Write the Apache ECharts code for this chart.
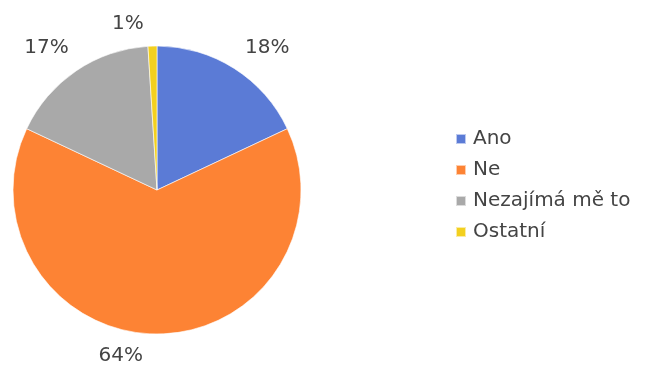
<!DOCTYPE html>
<html>
<head>
<meta charset="utf-8">
<script src="https://cdn.jsdelivr.net/npm/echarts@6/dist/echarts.min.js"></script>
<style>
  html, body { margin: 0; padding: 0; background: #fff; }
  #chart { width: 654px; height: 365px; }
</style>
</head>
<body>
<div id="chart"></div>
<script>
// Answers and their shares (percent)
const categories = ['Ano', 'Ne', 'Nezajímá mě to', 'Ostatní'];
const shares = [18, 64, 17, 1];

const sliceColors = ['#5b7bd6', '#fd8334', '#a9a9a9', '#f3d01f'];
// small per-label nudges applied after the library's outside layout
const labelNudge = [[-6, -2], [-19, 0], [10, -5], [-3, 0]];
const labelAlign = [null, 'right', null, null];

const chart = echarts.init(document.getElementById('chart'), null, { renderer: 'canvas' });

chart.setOption({
  animation: false,
  color: sliceColors,
  legend: {
    orient: 'vertical',
    left: 455,
    top: 129,
    padding: 0,
    icon: 'rect',
    itemWidth: 10,
    itemHeight: 10,
    itemGap: 11,
    data: categories,
    textStyle: {
      fontFamily: 'DejaVu Sans',
      fontSize: 20,
      color: '#444',
      padding: [0, 0, 0, 2]
    }
  },
  series: [{
    type: 'pie',
    center: [157, 190],
    radius: 144,
    startAngle: 90,
    clockwise: true,
    avoidLabelOverlap: false,
    itemStyle: {
      borderColor: 'rgba(255,255,255,0.6)',
      borderWidth: 1
    },
    label: {
      show: true,
      position: 'outside',
      formatter: '{d}%',
      fontFamily: 'DejaVu Sans',
      fontSize: 20,
      color: '#444',
      distanceToLabelLine: 5
    },
    labelLine: { show: false, length: 22, length2: 0 },
    labelLayout: function (p) {
      const n = labelNudge[p.dataIndex] || [0, 0];
      const out = { dx: n[0], dy: n[1] };
      if (labelAlign[p.dataIndex]) out.align = labelAlign[p.dataIndex];
      return out;
    },
    data: categories.map((name, i) => ({ name: name, value: shares[i] }))
  }]
});
</script>
</body>
</html>
